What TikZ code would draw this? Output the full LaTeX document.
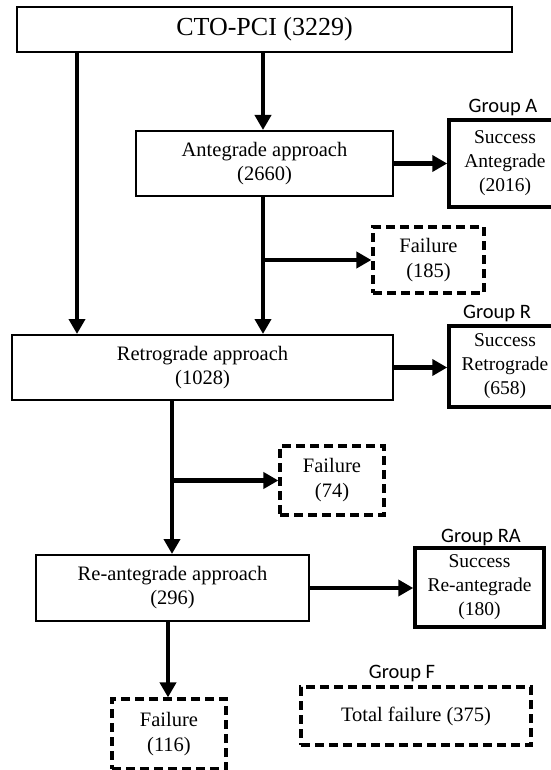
\documentclass[tikz,border=0pt]{standalone}
\usepackage{fontspec}
\setmainfont{Liberation Serif}
\newfontfamily\grpfont{Carlito}
\usetikzlibrary{arrows.meta}
\begin{document}
\begin{tikzpicture}[x=1pt,y=-1pt,
 mainbox/.style={draw, line width=2pt, rectangle, inner sep=0pt, align=center, font=\fontsize{20.5}{24}\selectfont},
 succbox/.style={draw, line width=3.5pt, rectangle, inner sep=0pt, align=center, font=\fontsize{19.5}{24}\selectfont},
 failbox/.style={draw, line width=3.2pt, dash pattern=on 9pt off 5pt, rectangle, inner sep=0pt, align=center, font=\fontsize{20.5}{25}\selectfont},
 grplabel/.style={font=\grpfont\fontsize{20.5}{22}\selectfont, inner sep=0pt},
 flow/.style={line width=4.8pt, -{Triangle[length=15pt,width=16pt]}},
 ]
\useasboundingbox[fill=white] (0,0) rectangle (550,770);

\node[mainbox, minimum width=495pt, minimum height=45pt, font=\fontsize{26}{30}\selectfont] (cto) at (264.5,29.5) {CTO-PCI (3229)};
\node[mainbox, minimum width=257pt, minimum height=65pt] (ante) at (264.5,163.5) {Antegrade approach\\(2660)};
\node[succbox, minimum width=112pt, minimum height=87pt] (sa) at (505,163.5) {Success\\Antegrade\\(2016)};
\node[grplabel] (ga) at (503,108) {Group A};
\node[failbox, minimum width=111pt, minimum height=66pt] (f185) at (428.5,260) {Failure\\(185)};

\node[mainbox, minimum width=381pt, minimum height=65pt] (retro) at (202.5,367.5) {Retrograde approach\\(1028)};
\node[succbox, minimum width=112pt, minimum height=81pt] (sr) at (505,366.5) {Success\\Retrograde\\(658)};
\node[grplabel] (gr) at (497,313) {Group R};
\node[failbox, minimum width=104pt, minimum height=69pt] (f74) at (332,480.5) {Failure\\(74)};

\node[mainbox, minimum width=273pt, minimum height=66pt] (reante) at (172.5,588) {Re-antegrade approach\\(296)};
\node[succbox, minimum width=129pt, minimum height=79pt] (sra) at (479.5,587.5) {Success\\Re-antegrade\\(180)};
\node[grplabel] (gra) at (481,537) {Group RA};
\node[failbox, minimum width=114pt, minimum height=70pt] (f116) at (169,734) {Failure\\(116)};

\node[failbox, minimum width=230pt, minimum height=58pt] (tot) at (416,716) {Total failure (375)};
\node[grplabel] (gf) at (402,673) {Group F};

\coordinate (xl) at (77,0);
\coordinate (xm) at (263,0);
\coordinate (xr) at (172,0);
\coordinate (xf) at (168,0);

\draw[flow] (xl |- cto.south) -- (xl |- retro.north);
\draw[flow] (xm |- cto.south) -- (xm |- ante.north);
\draw[flow] (xm |- ante.south) -- (xm |- retro.north);
\draw[flow] (xm |- f185.west) -- (f185.west);
\draw[flow] (ante.east) -- (ante.east -| sa.west);
\draw[flow] (retro.east) -- (retro.east -| sr.west);
\draw[flow] (xr |- retro.south) -- (xr |- reante.north);
\draw[flow] (xr |- f74.west) -- (f74.west);
\draw[flow] (reante.east) -- (reante.east -| sra.west);
\draw[flow] (xf |- reante.south) -- (xf |- f116.north);
\end{tikzpicture}
\end{document}
